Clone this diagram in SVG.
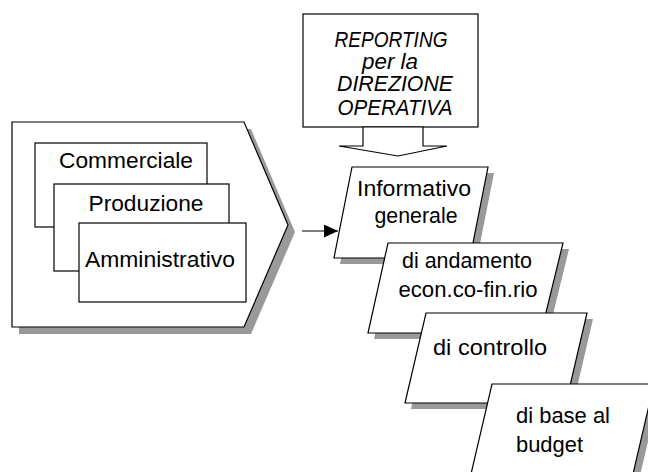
<svg xmlns="http://www.w3.org/2000/svg" width="648" height="472" viewBox="0 0 648 472">
<defs>
<style>
.sh{fill:#999999;stroke:none}
.bx{fill:#ffffff;stroke:#000000;stroke-width:1.2}
.t{font-family:"Liberation Sans",Arial,sans-serif;font-size:22.5px;fill:#000000}
.ti{font-family:"Liberation Sans",Arial,sans-serif;font-size:21.5px;font-style:italic;fill:#000000;text-anchor:middle}
.m{text-anchor:middle}
</style>
<marker id="ah" viewBox="0 0 14 13" refX="14" refY="6.5" markerWidth="14" markerHeight="13" markerUnits="userSpaceOnUse" orient="auto">
<path d="M0,0 L14,6.5 L0,13 Z" fill="#000000"/>
</marker>
</defs>
<rect width="648" height="472" fill="#ffffff"/>

<g id="aree">
<polygon class="sh" points="19,129 251,129 295,232 251,334 19,334"/>
<polygon class="bx" points="12,122 244,122 288,225 244,327 12,327"/>
</g>
<g id="commerciale">
<rect class="bx" x="35" y="143" width="172" height="84"/>
<text class="t m" x="126" y="168" textLength="134" lengthAdjust="spacingAndGlyphs">Commerciale</text>
</g>
<g id="produzione">
<rect class="bx" x="54" y="184" width="175" height="87"/>
<text class="t m" x="146" y="211" textLength="115" lengthAdjust="spacingAndGlyphs">Produzione</text>
</g>
<g id="amministrativo">
<rect class="bx" x="79" y="223" width="167" height="79"/>
<text class="t m" x="160" y="267" textLength="150" lengthAdjust="spacingAndGlyphs">Amministrativo</text>
</g>

<g id="reporting">
<rect class="bx" x="303" y="14" width="175" height="113"/>
<text class="ti" x="391" y="46.5" textLength="113" lengthAdjust="spacingAndGlyphs">REPORTING</text>
<text class="ti" x="390" y="68.5" textLength="56" lengthAdjust="spacingAndGlyphs">per la</text>
<text class="ti" x="395" y="91" textLength="116" lengthAdjust="spacingAndGlyphs">DIREZIONE</text>
<text class="ti" x="395" y="114.5" textLength="115" lengthAdjust="spacingAndGlyphs">OPERATIVA</text>
</g>

<g id="connectors">
<polygon class="bx" points="363,127 363,146 339,146 398,156 447,146 423,146 423,127"/>
<line x1="302" y1="231" x2="338" y2="231" stroke="#000000" stroke-width="1.2" marker-end="url(#ah)"/>
</g>

<g id="informativo">
<polygon class="sh" points="358,173 494,173 476,264 340,264"/>
<polygon class="bx" points="352,167 488,167 470,258 334,258"/>
<text class="t m" x="414" y="196" textLength="114" lengthAdjust="spacingAndGlyphs">Informativo</text>
<text class="t m" x="416" y="223" textLength="83" lengthAdjust="spacingAndGlyphs">generale</text>
</g>
<g id="andamento">
<polygon class="sh" points="394,249 569,249 547,339 374,339"/>
<polygon class="bx" points="388,243 563,243 541,333 368,333"/>
<text class="t m" x="467" y="268" textLength="130" lengthAdjust="spacingAndGlyphs">di andamento</text>
<text class="t m" x="468" y="297" textLength="139" lengthAdjust="spacingAndGlyphs">econ.co-fin.rio</text>
</g>
<g id="controllo">
<polygon class="sh" points="432,319 593,319 572,409 411,409"/>
<polygon class="bx" points="426,313 587,313 566,403 405,403"/>
<text class="t m" x="490" y="355" textLength="114" lengthAdjust="spacingAndGlyphs">di controllo</text>
</g>
<g id="budget">
<polygon class="sh" points="498,390 660,390 639,480 477,480"/>
<polygon class="bx" points="492,384 654,384 633,474 471,474"/>
<text class="t" x="516" y="423" textLength="94" lengthAdjust="spacingAndGlyphs">di base al</text>
<text class="t" x="516" y="452" textLength="67" lengthAdjust="spacingAndGlyphs">budget</text>
</g>
</svg>
